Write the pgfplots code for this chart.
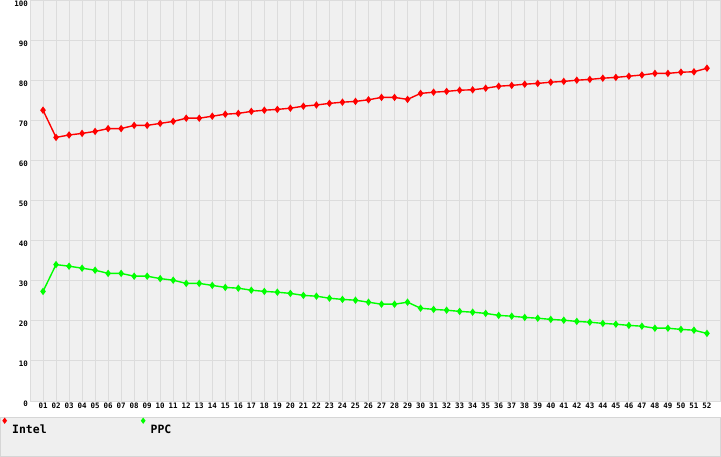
\documentclass[border=0pt]{standalone}
\usepackage{pgfplots}
\usepackage{pgfplotstable}
\pgfplotsset{compat=1.18}
\usepackage{fontspec}
\setmainfont{DejaVu Sans Mono}
\setmonofont{DejaVu Sans Mono}
\definecolor{plotbg}{HTML}{F0F0F0}
\definecolor{gridc}{HTML}{DCDCDC}
\definecolor{legbg}{HTML}{EFEFEF}
\definecolor{legbd}{HTML}{D6D6D6}
\definecolor{intelc}{HTML}{FF0000}
\definecolor{ppcc}{HTML}{00FF00}
\pgfplotstableread{
x intel ppc
1 72.7 27.4
2 65.9 34.1
3 66.5 33.7
4 66.9 33.2
5 67.4 32.7
6 68.1 31.9
7 68.1 31.9
8 68.9 31.2
9 68.9 31.2
10 69.4 30.6
11 69.9 30.2
12 70.7 29.4
13 70.7 29.4
14 71.2 28.9
15 71.7 28.4
16 71.9 28.2
17 72.4 27.7
18 72.7 27.4
19 72.9 27.2
20 73.2 26.9
21 73.7 26.4
22 74.0 26.2
23 74.4 25.7
24 74.7 25.4
25 74.9 25.2
26 75.3 24.7
27 75.9 24.2
28 75.9 24.2
29 75.4 24.7
30 76.9 23.2
31 77.2 22.9
32 77.4 22.7
33 77.7 22.4
34 77.8 22.2
35 78.2 21.9
36 78.7 21.4
37 78.9 21.2
38 79.2 20.9
39 79.4 20.7
40 79.7 20.4
41 79.9 20.2
42 80.2 19.9
43 80.4 19.7
44 80.7 19.4
45 80.9 19.2
46 81.2 18.9
47 81.5 18.7
48 81.9 18.2
49 81.9 18.2
50 82.2 17.9
51 82.3 17.7
52 83.2 16.9
}\data
\begin{document}
\begin{tikzpicture}
\useasboundingbox (-30bp,-56bp) rectangle (691bp,401bp);
\fill[legbg,draw=legbd,line width=1bp] (-29.5bp,-16.5bp) rectangle (690.5bp,-55.5bp);
\begin{axis}[
  at={(0,0)}, anchor=south west,
  scale only axis, width=690bp, height=400bp,
  xmin=0, xmax=53, ymin=0, ymax=100,
  axis background/.style={fill=plotbg},
  axis line style={gridc, line width=1bp},
  xmajorgrids, ymajorgrids,
  grid style={gridc, line width=1bp},
  major tick length=0pt,
  xtick={1,...,52},
  xticklabels={01,02,03,04,05,06,07,08,09,10,11,12,13,14,15,16,17,18,19,20,21,22,23,24,25,26,27,28,29,30,31,32,33,34,35,36,37,38,39,40,41,42,43,44,45,46,47,48,49,50,51,52},
  ytick={0,10,...,100},
  /pgf/number format/assume math mode=true,
  ticklabel style={font=\bfseries\fontsize{7.5}{8}\selectfont},
  yticklabel style={inner sep=0pt, xshift=-2bp, yshift=-2.5bp},
  xticklabel style={inner sep=0pt, yshift=-2bp},
  legend columns=2,
  legend image code/.code={\draw[#1, mark size=2bp] plot coordinates {(0bp,9bp)};},
  legend style={at={(axis description cs:0,0)}, anchor=north west,
    xshift=-27bp, yshift=-17.5bp, draw=none, fill=none, inner sep=0pt,
    font=\bfseries\fontsize{11.5}{12}\selectfont,
    nodes={inner sep=1bp},
    /tikz/every odd column/.append style={column sep=5bp},
    /tikz/every even column/.append style={column sep=94bp}},
]
\addplot[intelc, line width=1.4bp, mark=diamond*, mark size=2.6bp, mark options={solid}] table[x=x,y=intel]{\data};
\addlegendentry{Intel}
\addplot[ppcc, line width=1.4bp, mark=diamond*, mark size=2.6bp, mark options={solid}] table[x=x,y=ppc]{\data};
\addlegendentry{PPC}
\end{axis}
\end{tikzpicture}
\end{document}
